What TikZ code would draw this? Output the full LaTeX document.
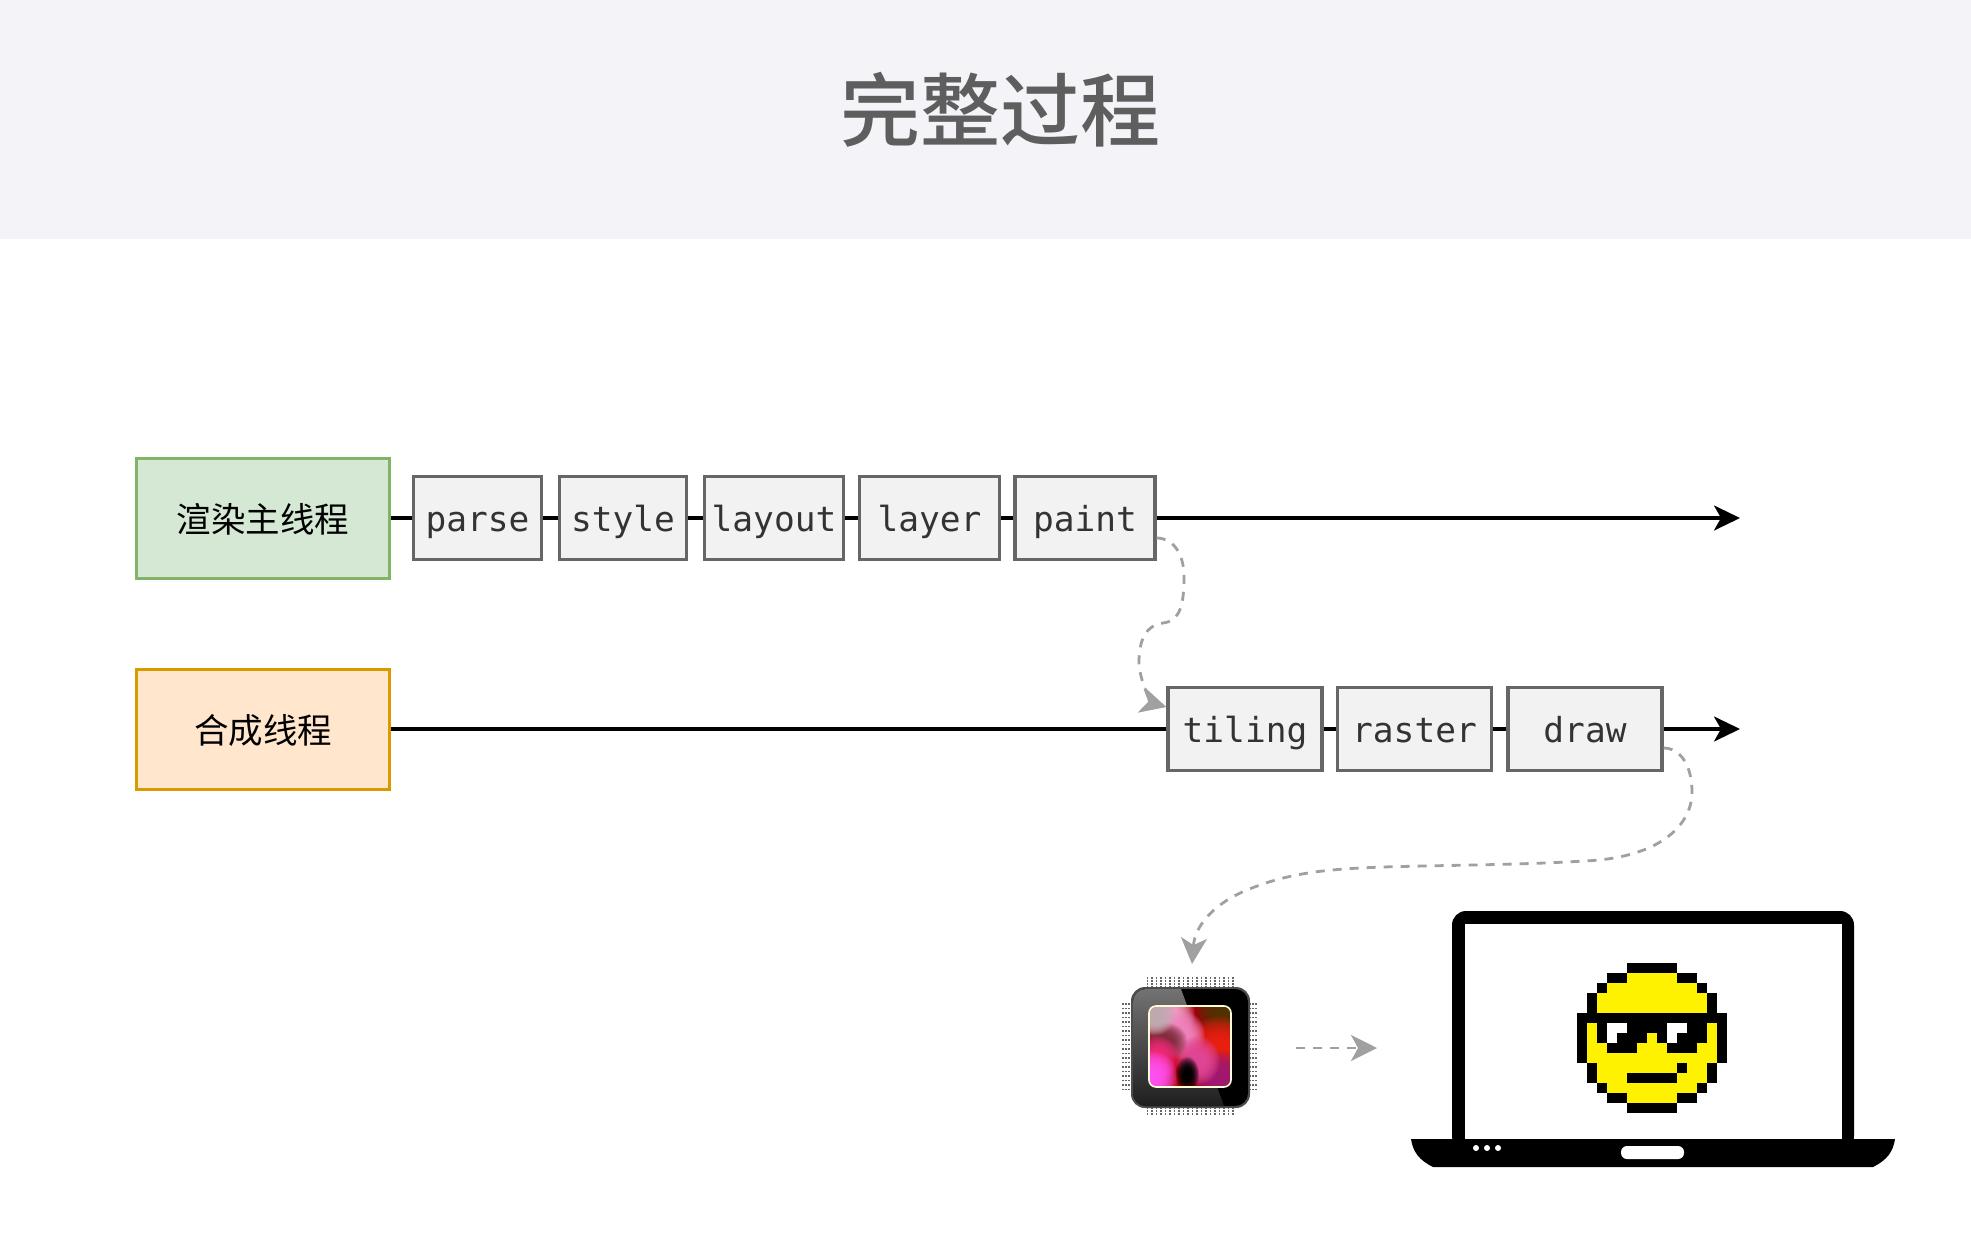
\documentclass[tikz,border=0pt]{standalone}
\usepackage{fontspec}
\setmonofont{DejaVu Sans Mono}
\newfontfamily\cjk{Noto Sans CJK SC}
\newfontfamily\cjkmed{Noto Sans CJK SC Medium}
\usetikzlibrary{arrows.meta,fadings}
\definecolor{bandbg}{HTML}{F4F4F8}
\definecolor{titletxt}{HTML}{5E5E5E}
\definecolor{stepfill}{HTML}{F2F2F2}
\definecolor{steppen}{HTML}{666666}
\definecolor{steptxt}{HTML}{333333}
\definecolor{mainfill}{HTML}{D5E8D4}
\definecolor{mainpen}{HTML}{82B366}
\definecolor{compfill}{HTML}{FFE6CC}
\definecolor{comppen}{HTML}{D79B00}
\definecolor{hintpen}{HTML}{A0A0A0}
\tikzfading[name=softspot,inner color=transparent!0,outer color=transparent!100]
\newcommand{\artspot}[3]{
  \definecolor{spotcol}{HTML}{#1}
  \fill [spot,spotcol] #2 rectangle #3;
  \fill [spot,spotcol] #2 rectangle #3;
  \fill [spot,spotcol] #2 rectangle #3;
}
\tikzset{
  thread/.style={draw,line width=3pt,minimum width=253pt,minimum height=120pt,inner sep=0pt,font=\cjk\fontsize{34.5}{35}\selectfont,text height=30pt,text depth=2pt},
  stepbox/.style={draw=steppen,fill=stepfill,line width=3.2pt,minimum height=83pt,inner sep=0pt,text=steptxt,font=\ttfamily\fontsize{34.5}{35}\selectfont,text height=29pt,text depth=2pt},
  flow/.style={line width=3.2pt},
  flowend/.style={flow,-{Stealth[length=26pt,width=25pt,inset=7pt]}},
  hint/.style={hintpen,line width=2.8pt,dash pattern=on 9pt off 8pt,-{Stealth[length=26pt,width=26pt,inset=7pt]}},
  spot/.style={path fading=softspot},
}
\begin{document}
\begin{tikzpicture}[x=1pt,y=-1pt]
\useasboundingbox (0,0) rectangle (1971,1253);
\fill [bandbg] (0,0) rectangle (1971,239);
\node [text=titletxt,font=\cjkmed\fontsize{80}{80}\selectfont] (title) at (1000,110) {完整过程};

\node [thread,draw=mainpen,fill=mainfill] (main) at (263,518) {渲染主线程};
\node [thread,draw=comppen,fill=compfill] (comp) at (263,729) {合成线程};

\node [stepbox,minimum width=128pt] (parse) at (477.5,518) {parse};
\node [stepbox,minimum width=127pt] (style) at (623,518) {style};
\node [stepbox,minimum width=139pt] (layout) at (774,518) {layout};
\node [stepbox,minimum width=140pt] (layer) at (929.5,518) {layer};
\node [stepbox,minimum width=140pt] (paint) at (1085,518) {paint};
\node [stepbox,minimum width=154pt] (tiling) at (1245,729) {tiling};
\node [stepbox,minimum width=154pt] (raster) at (1414.5,729) {raster};
\node [stepbox,minimum width=154pt] (drawing) at (1585,729) {draw};

\coordinate (mainend) at (1740,518);
\coordinate (compend) at (1740,729);
\coordinate (chiptop) at (1192,964);
\coordinate (chipside) at (1296,1048);
\coordinate (laptopside) at (1377,1048);

\draw [flow] (main) -- (parse);
\draw [flow] (parse) -- (style);
\draw [flow] (style) -- (layout);
\draw [flow] (layout) -- (layer);
\draw [flow] (layer) -- (paint);
\draw [flowend] (paint) -- (mainend);
\draw [flow] (comp) -- (tiling);
\draw [flow] (tiling) -- (raster);
\draw [flow] (raster) -- (drawing);
\draw [flowend] (drawing) -- (compend);

\draw [hint] ([yshift=-20pt]paint.east) .. controls (1172,538) and (1184,552) .. (1184,577)
  .. controls (1184,605) and (1180,621) .. (1163,623)
  .. controls (1146,625) and (1139,640) .. (1139,662)
  .. controls (1139,680) and (1152,703) .. ([yshift=22pt]tiling.west);
\draw [hint] ([yshift=-19pt]drawing.east) .. controls (1680,748) and (1692,765) .. (1692,792)
  .. controls (1692,825) and (1660,858) .. (1584,861)
  .. controls (1520,865) and (1450,865) .. (1383,867)
  .. controls (1330,869) and (1290,872) .. (1247,890)
  .. controls (1215,903) and (1195,925) .. (chiptop);
\draw [hint] (chipside) -- (laptopside);

\foreach \i in {0,...,19} {
  \draw [steppen,line width=1.6pt,dash pattern=on 2pt off 1pt] ({1147.5+4.5*\i},977) -- ({1147.5+4.5*\i},988);
  \draw [steppen,line width=1.6pt,dash pattern=on 2pt off 1pt] ({1147.5+4.5*\i},1107) -- ({1147.5+4.5*\i},1116);
  \draw [steppen,line width=1.6pt,dash pattern=on 2pt off 1pt] (1122,{1004+4.5*\i}) -- (1132,{1004+4.5*\i});
  \draw [steppen,line width=1.6pt,dash pattern=on 2pt off 1pt] (1249,{1004+4.5*\i}) -- (1258,{1004+4.5*\i});
}
\fill [black!70,rounded corners=14pt] (1131,987) rectangle (1250,1108);
\fill [black,rounded corners=13pt] (1133,989) rectangle (1248,1106);
\begin{scope}
  \clip [rounded corners=13pt] (1133,989) rectangle (1248,1106);
  \shade [top color=black!55,bottom color=black!88] (1133,989) -- (1181,989) -- (1224,1106) -- (1133,1106) -- cycle;
\end{scope}
\begin{scope}
  \clip [rounded corners=7pt] (1149,1006) rectangle (1231,1087);
  \fill [red!70!black] (1149,1006) rectangle (1231,1087);
  \artspot{A00010}{(1175,985)}{(1260,1050)}
  \artspot{503200}{(1195,980)}{(1255,1040)}
  \artspot{E82010}{(1180,1015)}{(1260,1085)}
  \artspot{A01870}{(1190,1050)}{(1250,1105)}
  \artspot{F0A0C8}{(1140,985)}{(1195,1045)}
  \artspot{F082BE}{(1160,1010)}{(1205,1060)}
  \artspot{E04696}{(1175,1035)}{(1220,1085)}
  \artspot{802C3C}{(1142,1022)}{(1187,1060)}
  \artspot{BEAAAF}{(1135,995)}{(1175,1035)}
  \artspot{F02878}{(1135,1035)}{(1180,1080)}
  \artspot{FF50F0}{(1125,1050)}{(1178,1105)}
  \artspot{000000}{(1175,1056)}{(1199,1092)}
\end{scope}
\draw [white!85!yellow,line width=1.6pt,rounded corners=7pt] (1149,1006) rectangle (1231,1087);

\fill [black,rounded corners=14pt] (1452,1150) -- (1452,911) -- (1854,911) -- (1854,1150) -- cycle;
\fill [white] (1465,924) rectangle (1842,1139);
\fill [black] (1411,1139) -- (1895,1139) .. controls (1893,1152) and (1887,1160) .. (1873,1167) -- (1433,1167) .. controls (1419,1160) and (1413,1152) .. (1411,1139) -- cycle;
\foreach \i in {1476,1487,1498} \fill [white] (\i,1148) circle (3pt);
\fill [white,rounded corners=6pt] (1621,1146) rectangle (1684,1159);

\foreach \r/\a/\b in {1/4/10,2/3/11,3/2/12,4/2/12,5/1/13,6/1/13,7/1/13,8/1/13,9/1/13,10/2/12,11/2/12,12/3/11,13/4/10}
  \fill [yellow] ({1577.3+10*\a},{963.3+10*\r}) rectangle ({1587.3+10*\b},{973.3+10*\r});
\foreach \r/\a/\b in {6/3/4,6/9/10,7/3/3,7/9/9}
  \fill [white] ({1577.3+10*\a},{963.3+10*\r}) rectangle ({1587.3+10*\b},{973.3+10*\r});
\foreach \r/\a/\b in {0/5/9,1/3/4,1/10/11,2/2/2,2/12/12,3/1/1,3/13/13,4/1/1,4/13/13,5/0/14,6/0/0,6/2/2,6/5/8,6/11/12,6/14/14,7/0/0,7/2/2,7/4/6,7/8/8,7/10/12,7/14/14,8/0/0,8/3/5,8/9/11,8/14/14,9/0/0,9/14/14,10/1/1,10/10/10,10/13/13,11/1/1,11/5/9,11/13/13,12/2/2,12/12/12,13/3/4,13/10/11,14/5/9}
  \fill [black] ({1577.3+10*\a},{963.3+10*\r}) rectangle ({1587.3+10*\b},{973.3+10*\r});
\end{tikzpicture}
\end{document}
